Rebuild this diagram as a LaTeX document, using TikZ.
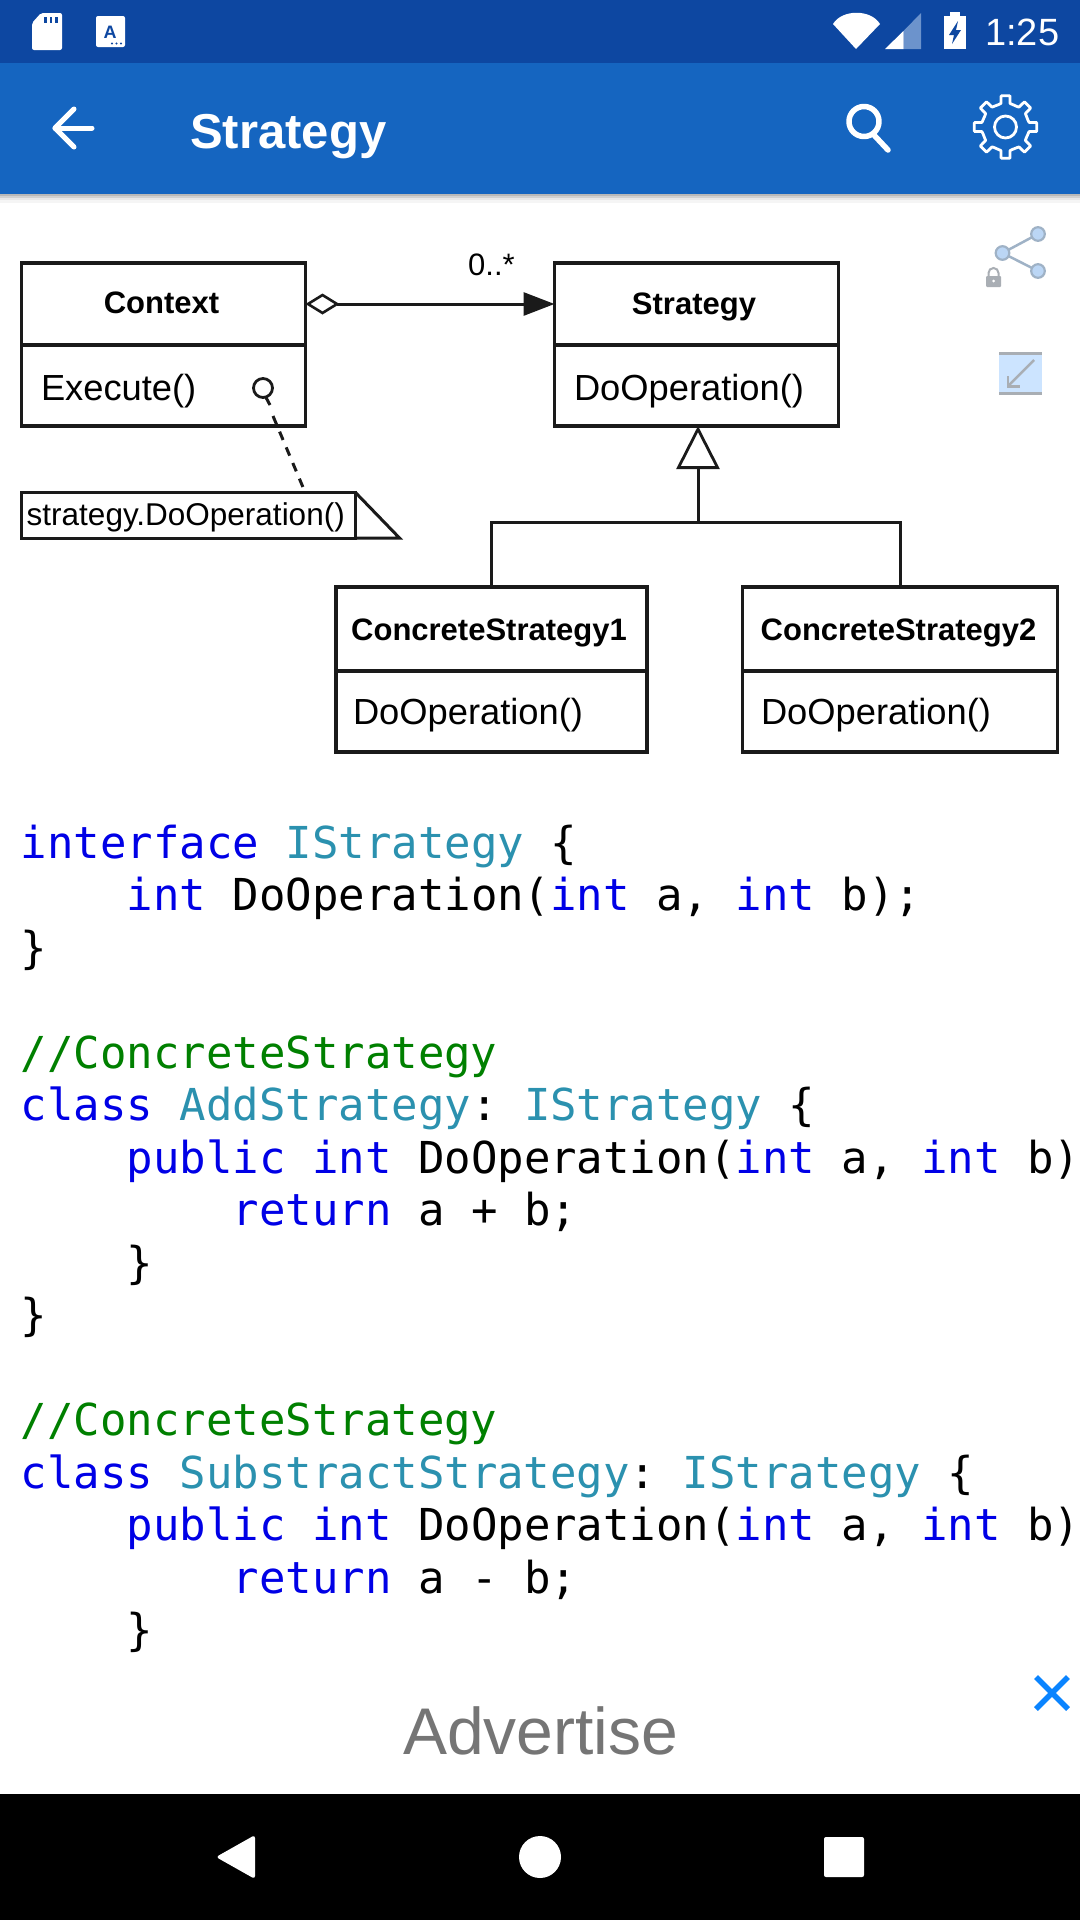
\documentclass[tikz,border=0pt]{standalone}
\usepackage{fontspec}
\setmainfont{Liberation Sans}
\setmonofont{DejaVu Sans Mono}
\usetikzlibrary{arrows.meta}
\definecolor{statusblue}{HTML}{0D47A1}
\definecolor{barblue}{HTML}{1565C0}
\definecolor{kwblue}{HTML}{0000E6}
\definecolor{typeteal}{HTML}{2B91AF}
\definecolor{cmtgreen}{HTML}{008000}
\definecolor{inkline}{HTML}{1A1A1A}
\definecolor{adgray}{HTML}{757575}
\definecolor{closeblue}{HTML}{0A84FF}
\definecolor{iconfill}{HTML}{BBD6F5}
\definecolor{iconline}{HTML}{9FB2C6}
\definecolor{panelblue}{HTML}{CCE4FF}
\definecolor{icongray}{HTML}{A9AEB4}
\definecolor{signaldim}{HTML}{6C93CC}
\newcommand{\kw}[1]{\textcolor{kwblue}{#1}}
\newcommand{\ty}[1]{\textcolor{typeteal}{#1}}
\newcommand{\cm}[1]{\textcolor{cmtgreen}{#1}}
\tikzset{
  classbox/.style={draw=inkline,line width=3.2pt,inner ysep=0pt,outer sep=0pt,text=black,
    font=\fontsize{31}{36}\selectfont\bfseries,text depth=0pt},
  bodybox/.style={draw=inkline,line width=3.2pt,inner ysep=0pt,outer sep=0pt,text=black,
    font=\fontsize{36.3}{42}\selectfont,text depth=0pt,align=left},
  wire/.style={draw=inkline,line width=3pt},
  code/.style={anchor=base west,inner sep=0pt,font=\fontsize{44}{53}\selectfont\ttfamily\frenchspacing},
  plainlabel/.style={anchor=base west,inner sep=0pt},
  whitestroke/.style={draw=white,line cap=round,line join=round}
}
\begin{document}
\begin{tikzpicture}[x=1pt,y=-1pt]
\useasboundingbox (0,0) rectangle (1080,1920);
\fill[white] (0,0) rectangle (1080,1920);
% app bars
\fill[black!28] (0,193) rectangle (1080,196);
\fill[black!18] (0,196) rectangle (1080,198);
\fill[black!9] (0,198) rectangle (1080,200);
\fill[black!4] (0,200) rectangle (1080,203);
\fill[barblue] (0,63) rectangle (1080,194);
\fill[statusblue] (0,0) rectangle (1080,63);
% status icons
\fill[white,rounded corners=2pt] (41,13) -- (62,13) -- (62,50) -- (32,50) -- (32,23) -- cycle;
\foreach \sx in {44,49.5,55} \fill[statusblue] (\sx,17) rectangle ++(2.5,6);
\fill[white,rounded corners=2pt] (96,16) rectangle (125,47);
\node[inner sep=0pt,text=statusblue,font=\fontsize{18}{18}\selectfont\bfseries] (simA) at (110,32) {A};
\foreach \dx in {112,116.5,121} \fill[statusblue] (\dx,43.5) circle (1.1);
\fill[white] (856,49) -- (833,24) .. controls (842,9) and (871,9) .. (880,24) -- cycle;
\fill[signaldim] (903.5,31) -- (921,13) -- (921,49) -- (903.5,49) -- cycle;
\fill[white] (885,49) -- (903.5,31) -- (903.5,49) -- cycle;
\fill[white] (943.5,16) rectangle (966,49);
\fill[white] (950,12) rectangle (960,16);
\fill[statusblue] (958,21) -- (949,35) -- (954,35) -- (952,44) -- (961,30) -- (956,30) -- cycle;
\node[plainlabel,text=white,font=\fontsize{38}{38}\selectfont] (clock) at (985,45) {1:25};
% toolbar
\draw[whitestroke,line width=5pt] (92,128) -- (55,128);
\draw[whitestroke,line width=5pt] (74,109) -- (55,128) -- (74,147);
\node[plainlabel,text=white,font=\fontsize{49}{49}\selectfont\bfseries] (title) at (190,148) {Strategy};
\draw[whitestroke,line width=5.5pt] (864,121.5) circle (15);
\draw[whitestroke,line width=5.5pt] (873,134) -- (888,150);
\begin{scope}[shift={(1005.5,127)}]
\draw[whitestroke,line width=2.8pt] (-16:23.5) foreach \a in {0,45,...,315} { -- (\a-11:24) -- (\a-8:31.5) -- (\a+8:31.5) -- (\a+11:24) -- (\a+29:23.5) } -- cycle;
\draw[whitestroke,line width=2.8pt] (0,0) circle (11);
\end{scope}
% side icons
\draw[iconline,line width=2.5pt] (1038,234) -- (1002.5,253) -- (1038,271);
\foreach \ix/\iy in {1038/234,1002.5/253,1038/271}
  \filldraw[fill=iconfill,draw=iconline,line width=2.2pt] (\ix,\iy) circle (6.8);
\fill[icongray,rounded corners=1pt] (986,276) rectangle (1001,287);
\draw[icongray,line width=2pt] (988.5,276) -- (988.5,273) arc[start angle=180,end angle=360,radius=5] -- (998.5,276);
\fill[white] (993.5,281) circle (1.5);
\fill[panelblue] (999,352) rectangle (1042,395);
\fill[icongray] (999,352) rectangle (1042,355);
\fill[icongray] (999,392) rectangle (1042,395);
\draw[icongray,line width=2.5pt] (1034,360) -- (1008,386);
\draw[icongray,line width=2.5pt] (1008,376) -- (1008,386.5) -- (1020,386.5);
% UML classes
\node[classbox,minimum width=284,minimum height=82,text height=18pt] (ctxhead) at (163.5,304) {\kern-4pt Context};
\node[bodybox,inner xsep=19.5pt,text width=245pt,minimum height=81,text height=29pt] (ctxbody) at (163.5,385.5) {Execute()};
\node[classbox,minimum width=284,minimum height=82,text height=20pt] (strathead) at (696.5,304) {\kern-5pt Strategy};
\node[bodybox,inner xsep=19.5pt,text width=245pt,minimum height=81,text height=29pt] (stratbody) at (696.5,385.5) {DoOperation()};
\node[classbox,minimum width=311,minimum height=84,text height=22pt] (conchead) at (491.5,629) {\kern-5pt ConcreteStrategy1};
\node[bodybox,inner xsep=17pt,text width=277pt,minimum height=81,text height=25pt] (concbody) at (491.5,711.5) {DoOperation()};
\node[classbox,minimum width=315,minimum height=84,text height=22pt] (conbhead) at (900,629) {\kern-3pt ConcreteStrategy2};
\node[bodybox,inner xsep=18.5pt,text width=278pt,minimum height=81,text height=25pt] (conbbody) at (900,711.5) {DoOperation()};
% association
\draw[wire,{Diamond[open,length=34pt,width=21pt,line width=2.6pt]}-{Triangle[length=31pt,width=23pt,fill=inkline]}] (ctxhead.east) -- (strathead.west);
\node[plainlabel,font=\fontsize{31}{36}\selectfont] (multi) at (468,275) {0..*};
% note
\node[draw=inkline,line width=3pt,inner sep=0pt,outer sep=0pt,minimum width=333.5,minimum height=46,
  text depth=0pt,text height=20pt,font=\fontsize{31.5}{36}\selectfont] (note) at (188.25,515) {\kern-5pt strategy.DoOperation()};
\coordinate (fold) at (399.5,538);
\draw[draw=inkline,line width=3pt,line join=miter] (note.north east) -- (fold) -- (note.south east);
\node[draw=inkline,circle,line width=2.8pt,inner sep=0pt,outer sep=0pt,minimum size=19] (qdot) at (263,388) {};
\coordinate (qtail) at (270,405);
\coordinate (dashstart) at (273,416);
\coordinate (notepin) at (305,492);
\draw[wire] (qdot) ++(3,9.5) -- (qtail);
\draw[wire,dash pattern=on 9pt off 8pt] (dashstart) -- (notepin);
% inheritance
\coordinate (junction) at (698,522);
\draw[wire] (conchead.north) |- (junction);
\draw[wire] (conbhead.north) |- (junction);
\draw[wire,-{Triangle[open,length=43pt,width=43pt,line width=2.8pt,fill=white]}] (junction) -- (junction |- stratbody.south);
% code
\node[code] (c0) at (20.5,858) {\kw{interface} \ty{IStrategy} \{};
\node[code] (c1) at (20.5,910.5) {~~~~\kw{int} DoOperation(\kw{int} a, \kw{int} b);};
\node[code] (c2) at (20.5,963) {\}};
\node[code] (c4) at (20.5,1068) {\cm{//ConcreteStrategy}};
\node[code] (c5) at (20.5,1120.5) {\kw{class} \ty{AddStrategy}: \ty{IStrategy} \{};
\node[code] (c6) at (20.5,1173) {~~~~\kw{public} \kw{int} DoOperation(\kw{int} a, \kw{int} b)};
\node[code] (c7) at (20.5,1225.5) {~~~~~~~~\kw{return} a + b;};
\node[code] (c8) at (20.5,1278) {~~~~\}};
\node[code] (c9) at (20.5,1330.5) {\}};
\node[code] (c11) at (20.5,1435.5) {\cm{//ConcreteStrategy}};
\node[code] (c12) at (20.5,1488) {\kw{class} \ty{SubstractStrategy}: \ty{IStrategy} \{};
\node[code] (c13) at (20.5,1540.5) {~~~~\kw{public} \kw{int} DoOperation(\kw{int} a, \kw{int} b)};
\node[code] (c14) at (20.5,1593) {~~~~~~~~\kw{return} a - b;};
\node[code] (c15) at (20.5,1645.5) {~~~~\}};
% advert
\node[plainlabel,text=adgray,font=\fontsize{66}{70}\selectfont] (advert) at (403,1754) {Advertise};
\draw[closeblue,line width=5.5pt] (1036,1677) -- (1068,1709);
\draw[closeblue,line width=5.5pt] (1068,1677) -- (1036,1709);
% nav bar
\fill[black] (0,1794) rectangle (1080,1920);
\fill[white,rounded corners=3pt] (255,1835) -- (255,1879) -- (216,1857) -- cycle;
\fill[white] (540,1857) circle (21);
\fill[white,rounded corners=2pt] (824,1837) rectangle (864,1877);
\end{tikzpicture}
\end{document}
